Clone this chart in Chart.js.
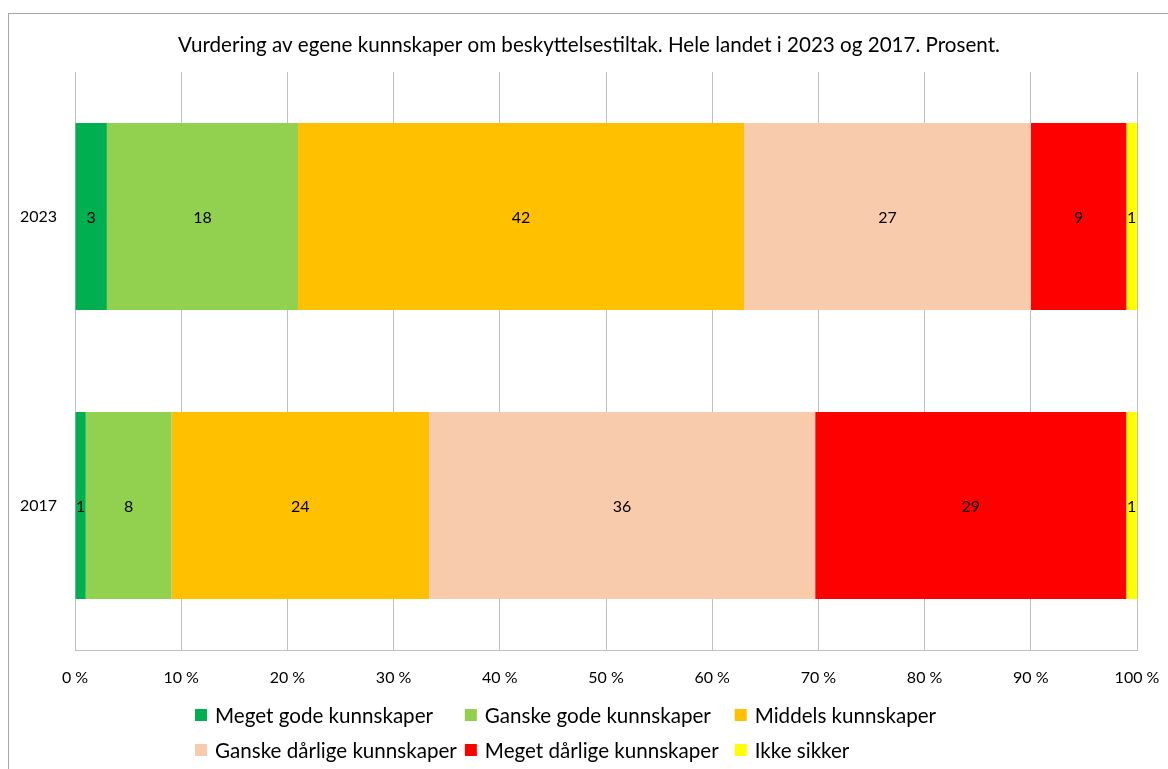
<!DOCTYPE html>
<html>
<head>
<meta charset="utf-8">
<script src="https://cdn.jsdelivr.net/npm/chart.js@4.4.1/dist/chart.umd.min.js"></script>
<style>
  html, body { margin: 0; padding: 0; background: #fff; }
  #wrap { width: 1168px; height: 769px; }
</style>
</head>
<body>
<div id="wrap"><canvas id="chart" width="1168" height="769"></canvas></div>
<script>
// Vurdering av egene kunnskaper -- 100 % stacked horizontal bars, 2023 vs 2017
const title = 'Vurdering av egene kunnskaper om beskyttelsestiltak. Hele landet i 2023 og 2017. Prosent.'
const years = ['2023', '2017']
const seriesNames = [
  'Meget gode kunnskaper',
  'Ganske gode kunnskaper',
  'Middels kunnskaper',
  'Ganske dårlige kunnskaper',
  'Meget dårlige kunnskaper',
  'Ikke sikker',
]
const megetGode = [3, 1]
const ganskeGode = [18, 8]
const middels = [42, 24]
const ganskeDarlige = [27, 36]
const megetDarlige = [9, 29]
const ikkeSikker = [1, 1]
const xTicks = [0, 10, 20, 30, 40, 50, 60, 70, 80, 90, 100]
const xTickLabels = ['0 %', '10 %', '20 %', '30 %', '40 %', '50 %', '60 %', '70 %', '80 %', '90 %', '100 %']

const colors = ['#00B050', '#92D050', '#FFC000', '#F8CBAD', '#FF0000', '#FFFF00']
const FONT = 'Lato, "Open Sans", sans-serif'
const GRID = '#bfbfbf'

const rows = [megetGode, ganskeGode, middels, ganskeDarlige, megetDarlige, ikkeSikker]
// Excel draws the bars as share of the row total (2017 sums to 99)
const totals = years.map((_, i) => rows.reduce((s, r) => s + r[i], 0))

const datasets = rows.map((vals, k) => ({
  label: seriesNames[k],
  raw: vals,
  data: vals.map((v, i) => v / totals[i] * 100),
  backgroundColor: colors[k],
  borderWidth: 0,
  categoryPercentage: 1,
  barPercentage: 0.647,
}))

// white page, grey frame around the chart object, and the title
const framePlugin = {
  id: 'frame',
  beforeDraw(chart) {
    const ctx = chart.ctx
    ctx.save()
    ctx.fillStyle = '#fff'
    ctx.fillRect(0, 0, chart.width, chart.height)
    ctx.strokeStyle = '#a6a6a6'
    ctx.lineWidth = 1
    ctx.strokeRect(8.5, 13.5, chart.width + 20, chart.height + 20)
    ctx.font = '20.6px ' + FONT
    ctx.fillStyle = '#000'
    ctx.textAlign = 'center'
    ctx.textBaseline = 'middle'
    ctx.fillText(title, 589, 45)
    ctx.restore()
  },
}

// numbers in the middle of every segment
const valueLabels = {
  id: 'valueLabels',
  afterDatasetsDraw(chart) {
    const ctx = chart.ctx
    ctx.save()
    ctx.font = '16px ' + FONT
    ctx.fillStyle = '#000'
    ctx.textAlign = 'center'
    ctx.textBaseline = 'middle'
    chart.data.datasets.forEach((ds, di) => {
      chart.getDatasetMeta(di).data.forEach((bar, i) => {
        ctx.fillText(String(ds.raw[i]), (bar.x + bar.base) / 2, bar.y + 1)
      })
    })
    ctx.restore()
  },
}

// two-row, three-column legend with equal column widths, like Excel
const gridLegend = {
  id: 'gridLegend',
  afterDraw(chart) {
    const ctx = chart.ctx
    const dsets = chart.data.datasets
    const cols = 3
    const box = 12
    const gap = 8
    const colGap = 8
    ctx.save()
    ctx.font = '20.6px ' + FONT
    ctx.textBaseline = 'middle'
    ctx.textAlign = 'left'
    const maxW = Math.max(...dsets.map(d => ctx.measureText(d.label).width))
    const colW = box + gap + maxW + colGap
    const rowY = [715, 750]
    dsets.forEach((d, i) => {
      const x = 195 + (i % cols) * colW
      const y = rowY[Math.floor(i / cols)]
      ctx.fillStyle = d.backgroundColor
      ctx.fillRect(x, y - box / 2, box, box)
      ctx.fillStyle = '#000'
      ctx.fillText(d.label, x + box + gap, y + 1)
    })
    ctx.restore()
  },
}

new Chart(document.getElementById('chart'), {
  type: 'bar',
  data: { labels: years, datasets },
  plugins: [framePlugin, valueLabels, gridLegend],
  options: {
    indexAxis: 'y',
    responsive: false,
    animation: false,
    devicePixelRatio: 1,
    layout: { padding: { left: 0, right: 31, top: 72, bottom: 0 } },
    plugins: {
      legend: { display: false },
      tooltip: { enabled: false },
      title: { display: false },
    },
    scales: {
      x: {
        stacked: true,
        min: 0,
        max: 100,
        afterBuildTicks(scale) { scale.ticks = xTicks.map(v => ({ value: v })) },
        afterFit(scale) {
          scale.height = 119
          scale.paddingLeft = 0
          scale.paddingRight = 0
        },
        ticks: {
          color: '#000',
          font: { family: FONT, size: 16 },
          padding: 18,
          maxRotation: 0,
          callback: (v) => xTickLabels[xTicks.indexOf(v)],
        },
        grid: { color: GRID, drawTicks: false },
        border: { display: true, color: GRID },
      },
      y: {
        stacked: true,
        afterFit(scale) { scale.width = 75 },
        ticks: {
          color: '#000',
          font: { family: FONT, size: 16 },
          padding: 18,
        },
        grid: { display: false, drawTicks: false },
        border: { display: true, color: GRID },
      },
    },
  },
})
</script>
</body>
</html>
